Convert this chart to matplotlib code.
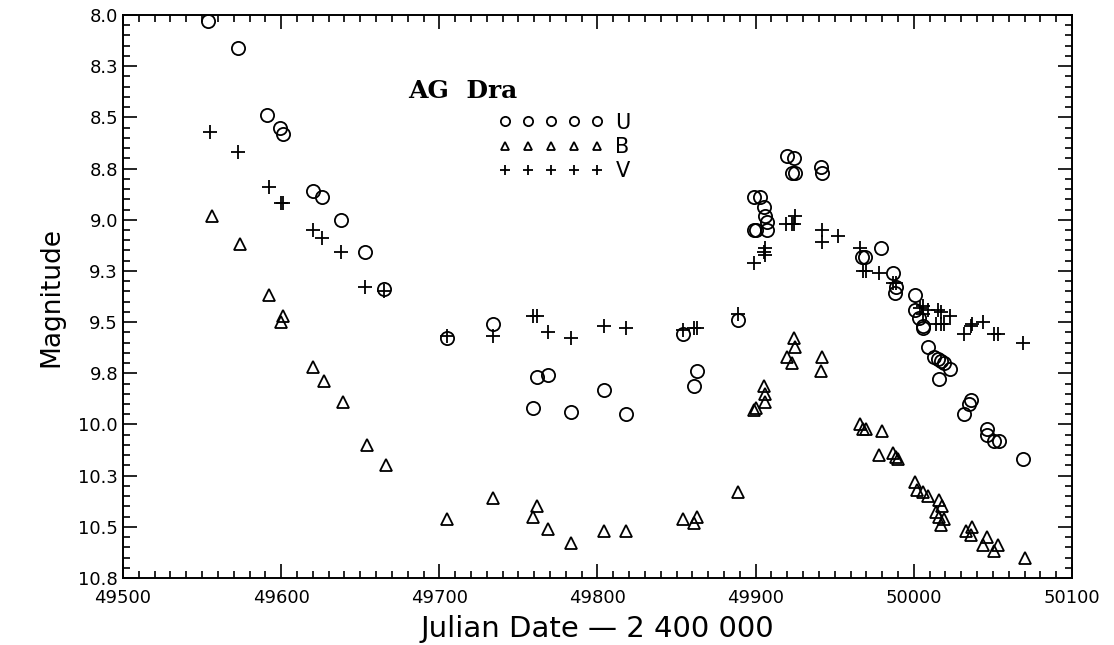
import matplotlib
matplotlib.use("Agg")
import matplotlib.pyplot as plt
from matplotlib.ticker import MultipleLocator, FixedLocator

# U band (circles)
u_jd = [49554, 49573, 49591, 49599, 49601, 49620, 49626, 49638, 49653, 49665,
        49705, 49734, 49762, 49769, 49759, 49783, 49804, 49818, 49854, 49863,
        49861, 49889, 49899, 49903, 49905, 49906, 49900, 49907, 49899, 49907,
        49920, 49924, 49923, 49925, 49941, 49942, 49967, 49969, 49979, 49987,
        49989, 49988, 50001, 50001, 50003, 50006, 50006, 50009, 50013, 50015,
        50017, 50019, 50023, 50016, 50036, 50035, 50032, 50046, 50046, 50051,
        50054, 50069]
u_mag = [8.03, 8.16, 8.49, 8.55, 8.58, 8.86, 8.89, 9.00, 9.16, 9.34,
         9.58, 9.51, 9.77, 9.76, 9.92, 9.94, 9.83, 9.95, 9.56, 9.74,
         9.81, 9.49, 8.89, 8.89, 8.94, 8.98, 9.05, 9.01, 9.05, 9.05,
         8.69, 8.70, 8.77, 8.77, 8.74, 8.77, 9.18, 9.18, 9.14, 9.26,
         9.33, 9.36, 9.37, 9.44, 9.48, 9.52, 9.53, 9.62, 9.67, 9.68,
         9.69, 9.70, 9.73, 9.78, 9.88, 9.90, 9.95, 10.02, 10.05, 10.08,
         10.08, 10.17]

# B band (triangles)
b_jd = [49556, 49574, 49592, 49601, 49600, 49620, 49627, 49639, 49654, 49666,
        49705, 49734, 49762, 49759, 49769, 49783, 49804, 49818, 49854, 49861,
        49863, 49889, 49900, 49899, 49905, 49906, 49906, 49924, 49925, 49920,
        49923, 49942, 49941, 49966, 49968, 49970, 49980, 49978, 49987, 49989,
        49990, 50001, 50002, 50006, 50009, 50016, 50018, 50014, 50016, 50019,
        50017, 50033, 50037, 50036, 50046, 50044, 50053, 50051, 50070]
b_mag = [8.98, 9.12, 9.37, 9.47, 9.50, 9.72, 9.79, 9.89, 10.10, 10.20,
         10.46, 10.36, 10.40, 10.45, 10.51, 10.58, 10.52, 10.52, 10.46, 10.48,
         10.45, 10.33, 9.92, 9.93, 9.81, 9.85, 9.89, 9.58, 9.62, 9.67,
         9.70, 9.67, 9.74, 10.00, 10.02, 10.02, 10.03, 10.15, 10.14, 10.16,
         10.17, 10.28, 10.32, 10.33, 10.35, 10.37, 10.40, 10.43, 10.45, 10.46,
         10.49, 10.52, 10.50, 10.54, 10.55, 10.59, 10.59, 10.62, 10.65]

# V band (plus)
v_jd = [49555, 49573, 49592, 49600, 49601, 49620, 49626, 49638, 49653, 49665,
        49705, 49734, 49759, 49762, 49769, 49783, 49804, 49818, 49854, 49861,
        49863, 49889, 49899, 49905, 49906, 49906, 49919, 49923, 49925, 49924,
        49942, 49942, 49952, 49966, 49968, 49970, 49978, 49987, 49989, 50004,
        50006, 50009, 50015, 50017, 50023, 50006, 50014, 50017, 50019, 50032,
        50036, 50037, 50044, 50051, 50053, 50069]
v_mag = [8.57, 8.67, 8.84, 8.92, 8.92, 9.05, 9.09, 9.16, 9.33, 9.35,
         9.57, 9.57, 9.47, 9.47, 9.55, 9.58, 9.52, 9.53, 9.54, 9.53,
         9.53, 9.46, 9.21, 9.16, 9.14, 9.17, 9.02, 9.02, 8.98, 9.02,
         9.05, 9.11, 9.08, 9.14, 9.25, 9.25, 9.26, 9.31, 9.31, 9.43,
         9.46, 9.44, 9.44, 9.45, 9.47, 9.42, 9.51, 9.51, 9.51, 9.56,
         9.52, 9.51, 9.50, 9.56, 9.56, 9.60]

y_ticks = [8.0, 8.25, 8.5, 8.75, 9.0, 9.25, 9.5, 9.75, 10.0, 10.25, 10.5, 10.75]
y_tick_labels = ["8.0", "8.3", "8.5", "8.8", "9.0", "9.3", "9.5", "9.8",
                 "10.0", "10.3", "10.5", "10.8"]
x_ticks = [49500, 49600, 49700, 49800, 49900, 50000, 50100]

fig = plt.figure(figsize=(11.14, 6.45), dpi=100)
ax = fig.add_axes([0.1104, 0.1039, 0.8519, 0.8728])

kw = dict(linestyle="none", markerfacecolor="none", markeredgecolor="black",
          color="black", markeredgewidth=1.3)
ax.plot(u_jd, u_mag, marker="o", markersize=9.5, label="U", **kw)
ax.plot(b_jd, b_mag, marker="^", markersize=9, label="B", **kw)
ax.plot(v_jd, v_mag, marker="+", markersize=10, label="V", **kw)

ax.set_xlim(49500, 50100)
ax.set_ylim(10.75, 8.0)
ax.xaxis.set_major_locator(FixedLocator(x_ticks))
ax.xaxis.set_minor_locator(MultipleLocator(10))
ax.yaxis.set_major_locator(FixedLocator(y_ticks))
ax.set_yticklabels(y_tick_labels)
ax.yaxis.set_minor_locator(MultipleLocator(0.05))
ax.tick_params(which="both", direction="in", top=True, right=True,
               labelsize=13, width=1.2)
ax.tick_params(which="major", length=10)
ax.tick_params(which="minor", length=5)
ax.tick_params(axis="x", pad=8)
for s in ax.spines.values():
    s.set_linewidth(1.4)

ax.set_xlabel("Julian Date \u2014 2 400 000", fontsize=21, labelpad=6)
ax.set_ylabel("Magnitude", fontsize=19, labelpad=10)

ax.text(0.30, 0.865, "AG  Dra", transform=ax.transAxes, fontsize=18,
        fontweight="bold", family="DejaVu Serif", ha="left", va="center")

leg = ax.legend(numpoints=5, markerscale=0.7, frameon=False, loc="upper left",
                bbox_to_anchor=(0.385, 0.845), fontsize=15, handlelength=5.0,
                handletextpad=0.6, labelspacing=0.2, borderpad=0)

fig.savefig("out.png", dpi=100, facecolor="white")
